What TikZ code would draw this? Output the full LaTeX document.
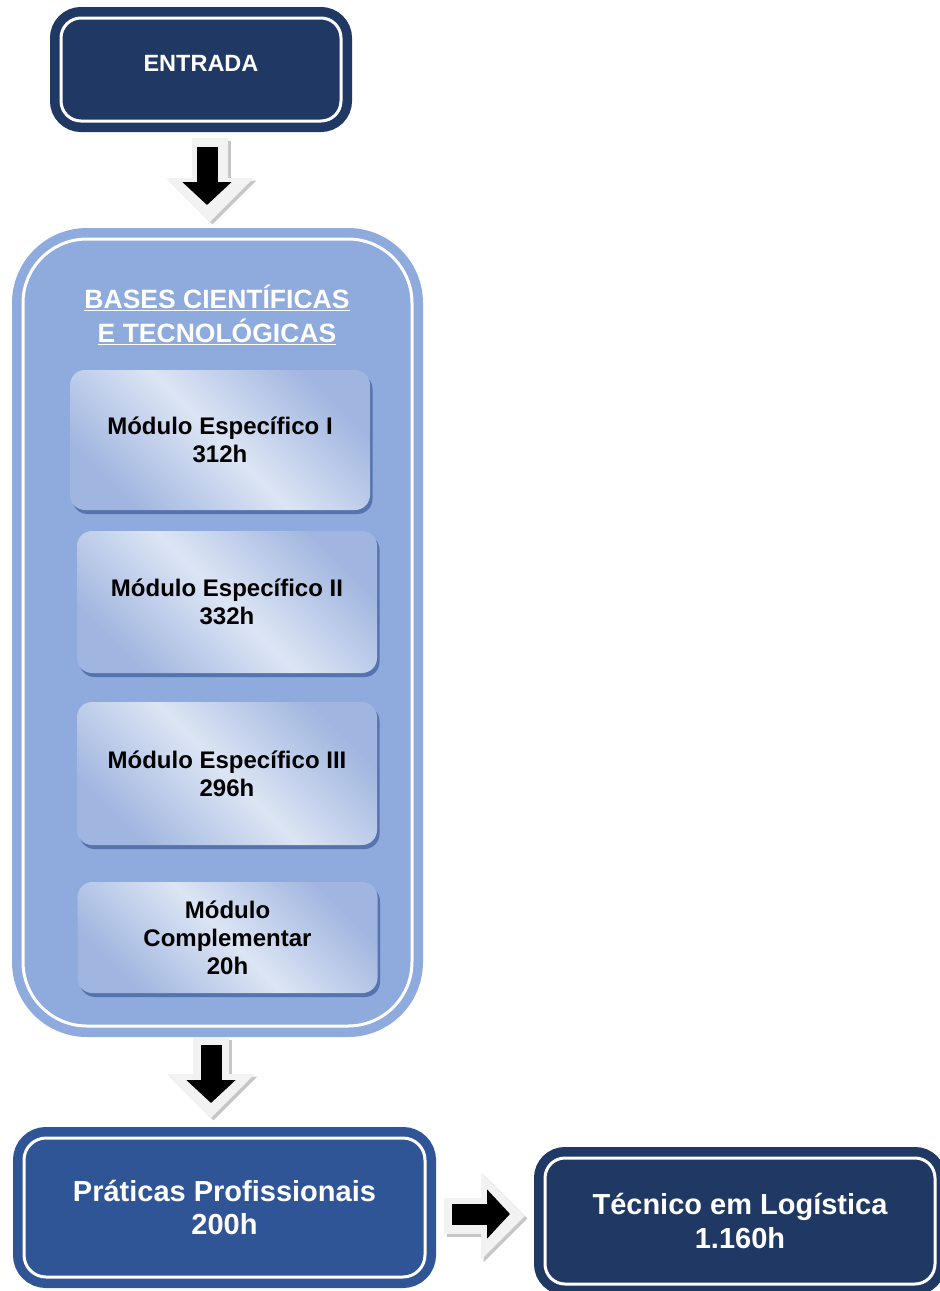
\documentclass[tikz,border=0pt]{standalone}
\usepackage{fontspec}
\setmainfont{Liberation Sans}
\usetikzlibrary{arrows.meta, shadows}

\definecolor{navy}{HTML}{203864}
\definecolor{midblue}{HTML}{2F5597}
\definecolor{paleblue}{HTML}{8FAADC}
\definecolor{modlight}{HTML}{DCE5F4}
\definecolor{moddark}{HTML}{A0B5DF}
\definecolor{modshadow}{HTML}{5573AD}
\definecolor{arrowlight}{HTML}{F2F2F2}

\tikzset{
  ringbox/.style={rectangle, rounded corners=#1, draw=white, line width=3pt, outer sep=0pt, text=white, align=center},
  darkbox/.style={ringbox=20pt, fill=navy, preaction={draw=navy, line width=22pt}},
  midbox/.style={ringbox=22pt, fill=midblue, preaction={draw=midblue, line width=22pt}},
  bigbox/.style={ringbox=64pt, fill=paleblue, preaction={draw=paleblue, line width=22pt}},
  modbox/.style={rectangle, rounded corners=15pt, minimum width=300pt, outer sep=0pt,
    left color=moddark, right color=moddark, middle color=modlight, shading angle=-45,
    drop shadow={shadow xshift=2.5pt, shadow yshift=-4pt, fill=modshadow, opacity=1},
    align=center, font=\fontsize{24}{28}\selectfont\bfseries},
  titletext/.style={text=white, align=center, font=\fontsize{26.5}{34}\selectfont\bfseries},
  arrowlite/.style={color=arrowlight, line width=36pt, -{Triangle[width=85pt,length=44pt]}},
  arrowshade/.style={arrowlite, color=gray!45, transform canvas={xshift=2.5pt, yshift=-2.5pt}},
  arrowblack/.style={color=black, line width=21pt, -{Triangle[width=48pt,length=23pt]}}
}

\begin{document}
\begin{tikzpicture}[x=1pt, y=-1pt]
  \useasboundingbox (0,0) rectangle (940,1291);

  % Entrada
  \node[darkbox, minimum width=280pt, minimum height=103pt, text depth=12pt,
    font=\fontsize{23.5}{28}\selectfont\bfseries] (entrada) at (201,69.5) {ENTRADA};

  % Bases cientificas e tecnologicas
  \node[bigbox, minimum width=389pt, minimum height=787pt] (bases) at (217.5,632.5) {};
  \node[titletext] (titulo) at (217,315) {\underline{BASES CIENTÍFICAS}\\\underline{E TECNOLÓGICAS}};

  % Modulos
  \node[modbox, minimum height=140pt] (mod1) at (220,440) {Módulo Específico I\\312h};
  \node[modbox, minimum height=142pt] (mod2) at (227,602) {Módulo Específico II\\332h};
  \node[modbox, minimum height=143pt] (mod3) at (227,773.5) {Módulo Específico III\\296h};
  \node[modbox, minimum height=111pt] (mod4) at (227.5,937.5) {Módulo\\Complementar\\20h};

  % Praticas e tecnico
  \node[midbox, minimum width=401pt, minimum height=139pt,
    font=\fontsize{29}{33}\selectfont\bfseries] (praticas) at (224.5,1207.5) {Práticas Profissionais\\200h};
  \node[darkbox, minimum width=390pt, minimum height=126pt,
    font=\fontsize{29}{34}\selectfont\bfseries] (tecnico) at (740,1221) {Técnico em Logística\\1.160h};

  % Setas
  \draw[arrowshade, shorten <=17pt, shorten >=17pt] ([xshift=9pt]entrada.south) -- ([xshift=9pt]entrada.south |- bases.north);
  \draw[arrowlite, shorten <=17pt, shorten >=17pt] ([xshift=9pt]entrada.south) -- ([xshift=9pt]entrada.south |- bases.north);
  \draw[arrowblack, shorten <=26pt, shorten >=34pt] ([xshift=6pt]entrada.south) -- ([xshift=6pt]entrada.south |- bases.north);

  \draw[arrowshade, shorten <=11pt, shorten >=20pt] ([xshift=-6.5pt]bases.south) -- ([xshift=-6.5pt]bases.south |- praticas.north);
  \draw[arrowlite, shorten <=11pt, shorten >=20pt] ([xshift=-6.5pt]bases.south) -- ([xshift=-6.5pt]bases.south |- praticas.north);
  \draw[arrowblack, shorten <=19pt, shorten >=35pt] ([xshift=-6.5pt]bases.south) -- ([xshift=-6.5pt]bases.south |- praticas.north);

  \draw[arrowshade, shorten <=19pt, shorten >=20pt] ([yshift=-8.5pt]praticas.east) -- ([yshift=-8.5pt]praticas.east -| tecnico.west);
  \draw[arrowlite, shorten <=19pt, shorten >=20pt] ([yshift=-8.5pt]praticas.east) -- ([yshift=-8.5pt]praticas.east -| tecnico.west);
  \draw[arrowblack, shorten <=27pt, shorten >=35pt] ([yshift=-6.5pt]praticas.east) -- ([yshift=-6.5pt]praticas.east -| tecnico.west);
\end{tikzpicture}
\end{document}
